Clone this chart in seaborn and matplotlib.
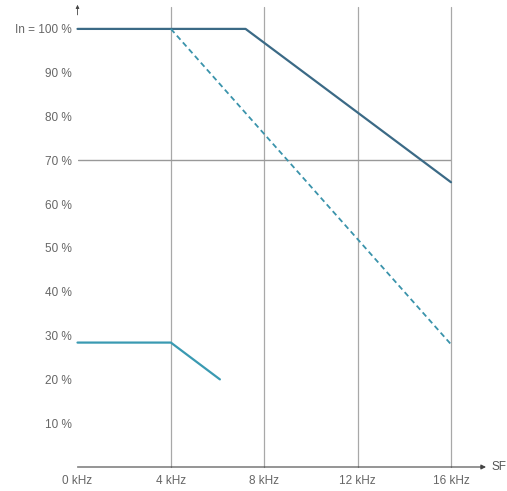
import matplotlib
matplotlib.use("Agg")
import matplotlib.pyplot as plt
import seaborn as sns
import pandas as pd

# Data (kHz, % of In)
upper_x = [0, 7.2, 16]
upper_y = [100, 100, 65]
dashed_x = [4, 16]
dashed_y = [100, 28]
lower_x = [0, 4, 6.1]
lower_y = [28.4, 28.4, 20]

x_ticks = [0, 4, 8, 12, 16]
x_labels = ["0 kHz", "4 kHz", "8 kHz", "12 kHz", "16 kHz"]
y_ticks = [10, 20, 30, 40, 50, 60, 70, 80, 90, 100]
y_labels = ["10 %", "20 %", "30 %", "40 %", "50 %", "60 %", "70 %", "80 %", "90 %", "In = 100 %"]

sns.set_style("white")
plt.rcParams['font.family'] = ['Liberation Sans', 'DejaVu Sans']

W, H = 507, 491
fig = plt.figure(figsize=(W / 100, H / 100), dpi=100)
ax = fig.add_axes([77.5 / W, (H - 467) / H, (451 - 77.5) / W, 460 / H])
ax.set_xlim(0, 16)
ax.set_ylim(0, 105)

grid_c = "#a8a8a8"
for xv in x_ticks[1:]:
    ax.axvline(xv, color=grid_c, lw=0.9, zorder=1, clip_on=False)
ax.plot([0, 16], [70, 70], color="#999999", lw=1.0, zorder=1)

df_u = pd.DataFrame({"x": upper_x, "y": upper_y})
df_d = pd.DataFrame({"x": dashed_x, "y": dashed_y})
df_l = pd.DataFrame({"x": lower_x, "y": lower_y})
sns.lineplot(data=df_u, x="x", y="y", ax=ax, color="#3b6a86", lw=1.6, zorder=3, clip_on=False)
sns.lineplot(data=df_d, x="x", y="y", ax=ax, color="#3a93ab", lw=1.3, ls=(0, (3, 2)), zorder=3, clip_on=False)
sns.lineplot(data=df_l, x="x", y="y", ax=ax, color="#3a9ab2", lw=1.6, zorder=3, clip_on=False)

for s in ax.spines.values():
    s.set_visible(False)

# x axis with arrow
ax.annotate("", xy=(17.5, 0), xytext=(0, 0), xycoords="data",
            arrowprops=dict(arrowstyle="-|>", color="#444444", lw=0.8,
                            mutation_scale=7, shrinkA=0, shrinkB=0),
            annotation_clip=False)
ax.text(17.75, 0, "SF", ha="left", va="center", fontsize=8.5, color="#555555", clip_on=False)
# small y arrow head at top
ax.annotate("", xy=(0, 105.5), xytext=(0, 103.2), xycoords="data",
            arrowprops=dict(arrowstyle="-|>", color="#444444", lw=0.6,
                            mutation_scale=5, shrinkA=0, shrinkB=0),
            annotation_clip=False)

ax.set_xticks(x_ticks)
ax.set_xticklabels(x_labels)
ax.set_yticks(y_ticks)
ax.set_yticklabels(y_labels)
ax.tick_params(axis="both", labelsize=8.5, colors="#666666", length=2, width=0.5, pad=2)
ax.tick_params(axis="x", length=0, pad=6)
ax.set_xlabel("")
ax.set_ylabel("")

fig.savefig("out.png", dpi=100)
